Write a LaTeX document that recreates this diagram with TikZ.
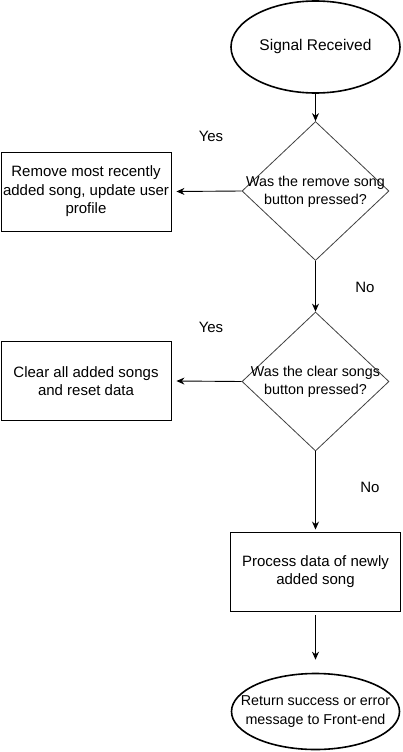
\documentclass[tikz,border=0pt]{standalone}
\usepackage{fontspec}
\setmainfont{Liberation Sans}
\usetikzlibrary{shapes.geometric,arrows.meta}
\begin{document}
\begin{tikzpicture}[x=1pt,y=-1pt,
  every node/.style={font=\fontsize{15}{18.5}\selectfont, align=center, inner sep=0pt},
  smalltxt/.style={font=\fontsize{14.3}{18.5}\selectfont},
  term/.style={draw, ellipse, line width=1.6pt},
  boxn/.style={draw, rectangle, line width=0.9pt, minimum width=170pt, minimum height=79pt},
  dec/.style={draw=black!75, diamond, line width=0.8pt, minimum width=147pt, minimum height=139pt, aspect=1.06},
  conn/.style={line width=0.9pt, -{Stealth[length=8pt,width=7pt]}},
  lbl/.style={font=\fontsize{15}{18.5}\selectfont}]
\useasboundingbox (0,0) rectangle (402,752);
\node[term, minimum width=169pt, minimum height=92pt] (start) at (315.5,47) {};
\node[font=\fontsize{15.5}{18.5}\selectfont] (tstart) at (315.5,46) {Signal Received};
\node[dec] (d1) at (315.5,191) {};
\node[smalltxt] (td1) at (315.5,192) {Was the remove song\\button pressed?};
\node[boxn] (b1) at (86,191.5) {Remove most recently\\added song, update user\\profile};
\node[dec] (d2) at (315.5,381.5) {};
\node[smalltxt] (td2) at (315.5,382) {Was the clear songs\\button pressed?};
\node[boxn] (b2) at (86,381) {Clear all added songs\\and reset data};
\node[boxn] (b3) at (315.5,571.5) {Process data of newly\\added song};
\node[term, minimum width=168pt, minimum height=76pt] (end) at (315.5,711.5) {};
\node[smalltxt] (tend) at (315.5,711.5) {Return success or error\\message to Front-end};
\draw[conn] (start) -- (d1);
\draw[conn] (d1.west) -- ([xshift=5pt]b1.east);
\draw[conn] (d1.south) -- (d2.north);
\draw[conn] (d2.west) -- ([xshift=5pt]b2.east);
\draw[conn] (d2.south) -- ([yshift=2pt]b3.north);
\draw[conn] ([yshift=-4pt]b3.south) -- ([yshift=13pt]end.north);
\node[lbl] (y1) at (211,136) {Yes};
\node[lbl] (n1) at (365,287) {No};
\node[lbl] (y2) at (211,327) {Yes};
\node[lbl] (n2) at (370,487) {No};
\end{tikzpicture}
\end{document}
